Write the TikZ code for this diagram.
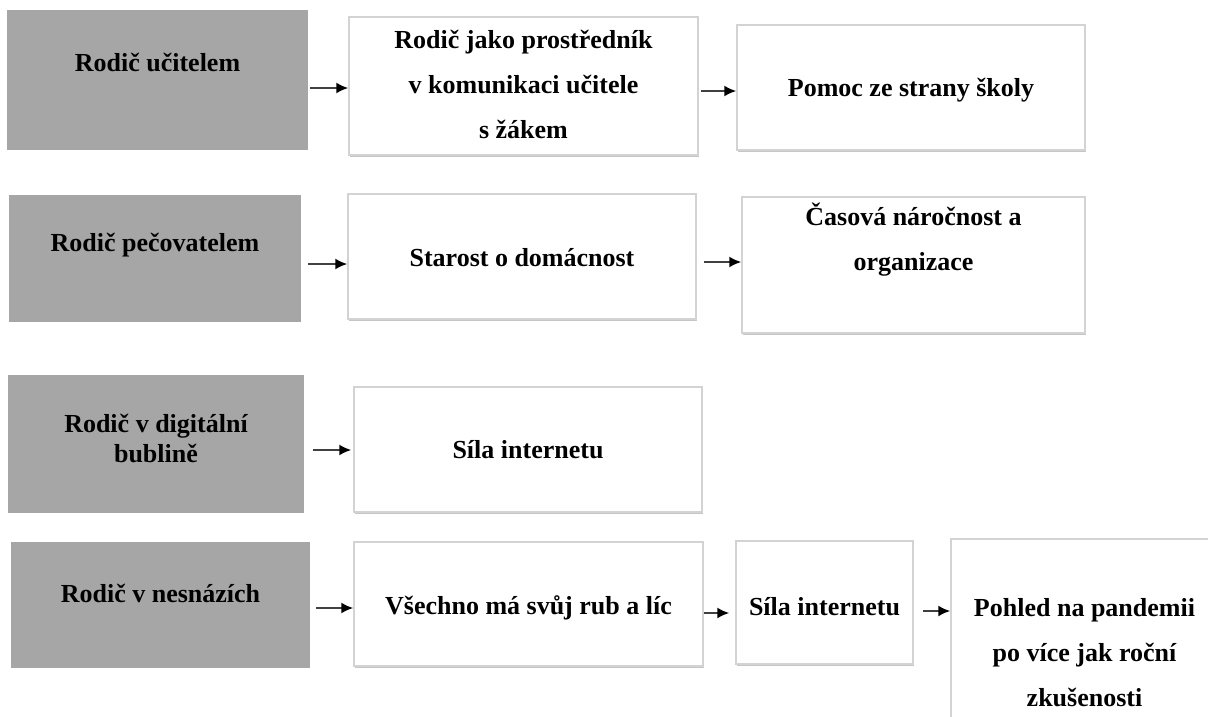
\documentclass[tikz,border=0pt]{standalone}
\usepackage{fontspec}
\setmainfont{Liberation Serif}
\usetikzlibrary{arrows.meta,shadows}

\definecolor{themegray}{HTML}{A6A6A6}
\definecolor{boxline}{HTML}{D3D3D3}
\definecolor{boxshadow}{HTML}{C6C6C6}

\tikzset{
  boxsize/.style 2 args={minimum width=#1, minimum height=#2},
  theme/.style={rectangle, fill=themegray, inner sep=0pt},
  subtheme/.style={rectangle, draw=boxline, line width=1.5pt, fill=white, inner sep=0pt,
    drop shadow={shadow xshift=1pt, shadow yshift=-2pt, fill=boxshadow, opacity=1}},
  boxtext/.style={font=\bfseries\fontsize{26}{45}\selectfont, align=center, inner sep=0pt},
  flow/.style={->, line width=1.8pt, black!75}
}

\begin{document}
\begin{tikzpicture}[x=1pt, y=-1pt, >={Latex[length=12pt,width=11pt,black]}]
  \useasboundingbox (0,0) rectangle (1208,716);
  \clip (0,0) rectangle (1208,716);

  % row 1: teacher
  \node[theme, boxsize={301pt}{140pt}] (a1) at (157.5,80) {};
  \node[subtheme, boxsize={349pt}{138pt}] (a2) at (523.5,86) {};
  \node[subtheme, boxsize={348pt}{125pt}] (a3) at (911,87.5) {};
  \node[boxtext] (a1txt) at (a1 |- 0,62) {Rodič učitelem};
  \node[boxtext] (a2txt) at (a2 |- 0,84) {Rodič jako prostředník\\v komunikaci učitele\\s žákem};
  \node[boxtext] (a3txt) at (a3 |- 0,90) {Pomoc ze strany školy};
  \draw[flow, shorten <=2pt] (a1.east |- 0,88) -- (a2.west |- 0,88);
  \draw[flow, shorten <=2pt] (a2.east |- 0,91) -- (a3.west |- 0,91);

  % row 2: carer
  \node[theme, boxsize={292pt}{127pt}] (b1) at (155,258.5) {};
  \node[subtheme, boxsize={348pt}{125pt}] (b2) at (522,256.5) {};
  \node[subtheme, boxsize={343pt}{136pt}] (b3) at (913.5,265) {};
  \node[boxtext] (b1txt) at (b1 |- 0,245) {Rodič pečovatelem};
  \node[boxtext] (b2txt) at (b2 |- 0,258) {Starost o domácnost};
  \node[boxtext] (b3txt) at (b3 |- 0,240) {Časová náročnost a\\organizace};
  \draw[flow, shorten <=7pt] (b1.east |- 0,264) -- (b2.west |- 0,264);
  \draw[flow, shorten <=7pt] (b2.east |- 0,262) -- (b3.west |- 0,262);

  % row 3: digital bubble
  \node[theme, boxsize={296pt}{138pt}] (c1) at (156,444) {};
  \node[subtheme, boxsize={348pt}{125pt}] (c2) at (528,449.5) {};
  \node[boxtext, font=\bfseries\fontsize{26}{30}\selectfont] (c1txt) at (c1 |- 0,438) {Rodič v digitální\\bublině};
  \node[boxtext] (c2txt) at (c2 |- 0,450) {Síla internetu};
  \draw[flow, shorten <=9pt, shorten >=2pt] (c1.east |- 0,450) -- (c2.west |- 0,450);

  % row 4: in trouble
  \node[theme, boxsize={299pt}{126pt}] (d1) at (160.5,605) {};
  \node[subtheme, boxsize={349pt}{124pt}] (d2) at (528.5,604) {};
  \node[subtheme, boxsize={177pt}{123pt}] (d3) at (824.5,602.5) {};
  \node[subtheme, boxsize={267pt}{191pt}] (d4) at (1084.5,634.5) {};
  \node[boxtext] (d1txt) at (d1 |- 0,593) {Rodič v nesnázích};
  \node[boxtext] (d2txt) at (d2 |- 0,608) {Všechno má svůj rub a líc};
  \node[boxtext] (d3txt) at (d3 |- 0,607) {Síla internetu};
  \node[boxtext] (d4txt) at (d4 |- 0,653) {Pohled na pandemii\\po více jak roční\\zkušenosti};
  \draw[flow, shorten <=6pt] (d1.east |- 0,608) -- (d2.west |- 0,608);
  \draw[flow, shorten >=6pt] (d2.east |- 0,613) -- (d3.west |- 0,613);
  \draw[flow, shorten <=9pt] (d3.east |- 0,611) -- (d4.west |- 0,611);
\end{tikzpicture}
\end{document}
